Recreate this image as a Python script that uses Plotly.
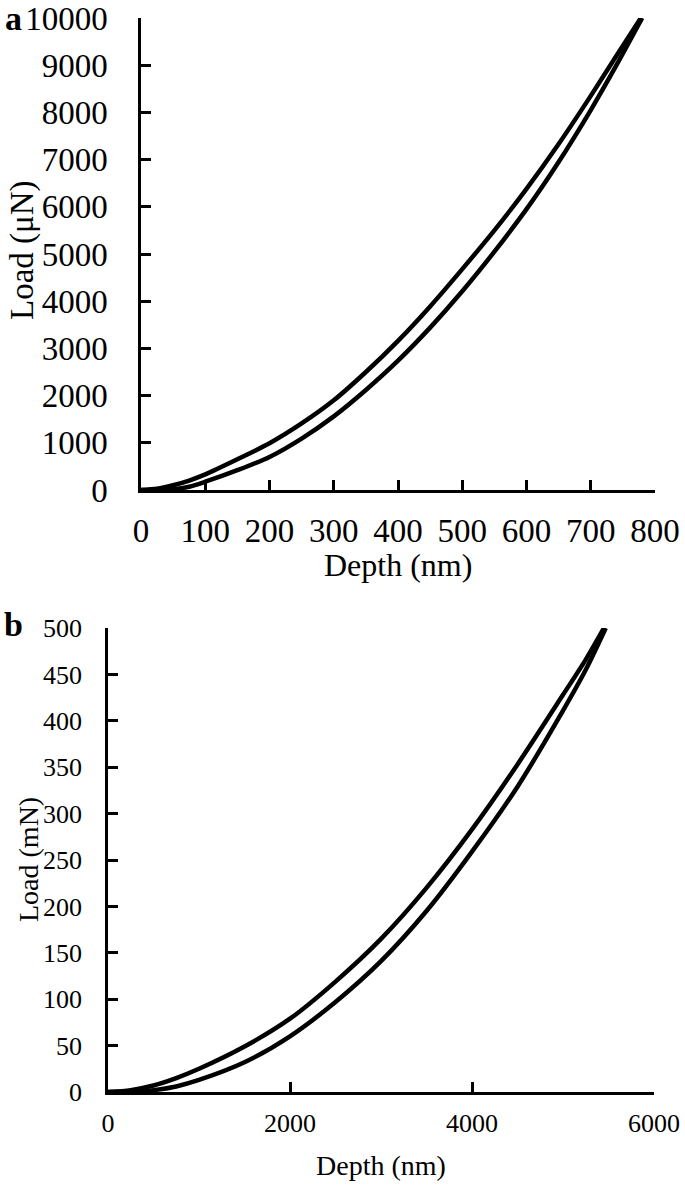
# -*- coding: utf-8 -*-
import plotly.graph_objects as go

# | data section |
# panel a : nanoindentation, load in uN
a_up_depth = [0, 25, 50, 75, 100, 150, 200, 250, 300, 350, 400, 450, 500, 550, 600, 650, 700, 740, 778]
a_up_load = [0, 25, 100, 200, 330, 650, 990, 1410, 1900, 2500, 3160, 3890, 4680, 5500, 6380, 7330, 8350, 9200, 10000]
a_lo_depth = [0, 30, 50, 75, 100, 150, 200, 250, 300, 350, 400, 450, 500, 550, 600, 650, 700, 740, 780]
a_lo_load = [0, 0, 15, 70, 175, 420, 700, 1090, 1560, 2120, 2740, 3440, 4210, 5050, 5950, 6950, 8050, 9000, 10000]

# panel b : microindentation, load in mN
b_up_depth = [0, 250, 500, 750, 1000, 1500, 2000, 2500, 3000, 3500, 4000, 4500, 5000, 5250, 5450]
b_up_load = [0, 2, 7, 15, 25, 49, 79, 119, 165, 220, 283, 353, 428, 466, 500]
b_lo_depth = [0, 300, 500, 750, 1000, 1500, 2000, 2500, 3000, 3500, 4000, 4500, 5000, 5250, 5470]
b_lo_load = [0, 0, 2, 6, 13, 32, 60, 97, 141, 195, 259, 329, 411, 455, 500]

W, H = 685, 1187
serif = "Liberation Serif, Times New Roman, serif"


def px(x):
    return x / W


def py(y):
    return 1 - y / H


# | graph section |
fig = go.Figure()

for xs, ys in [(a_up_depth, a_up_load), (a_lo_depth, a_lo_load)]:
    fig.add_trace(
        go.Scatter(
            x=xs, y=ys, mode="lines", xaxis="x", yaxis="y",
            line={"color": "black", "width": 4.5, "shape": "spline", "smoothing": 0.8},
            showlegend=False,
        )
    )

for xs, ys in [(b_up_depth, b_up_load), (b_lo_depth, b_lo_load)]:
    fig.add_trace(
        go.Scatter(
            x=xs, y=ys, mode="lines", xaxis="x2", yaxis="y2",
            line={"color": "black", "width": 4.5, "shape": "spline", "smoothing": 0.8},
            showlegend=False,
        )
    )

axis_common = dict(
    showgrid=False, zeroline=False, showline=True, linecolor="black",
    linewidth=2.5, ticks="inside", tickcolor="black", tickwidth=2.5,
    ticklen=10, mirror=False, automargin=False, tickformat="d",
    ticklabeloverflow="allow",
)


def label(text, x, y, size, angle=0, bold=False):
    return dict(
        text=f"<b>{text}</b>" if bold else text,
        x=px(x), y=py(y), xref="paper", yref="paper",
        xanchor="center", yanchor="middle", showarrow=False,
        textangle=angle, borderpad=0,
        font=dict(size=size, family=serif, color="black"),
    )


fig.update_layout(
    width=W,
    height=H,
    margin=dict(l=0, r=0, t=0, b=0),
    paper_bgcolor="white",
    plot_bgcolor="white",
    font=dict(family=serif, color="black"),
    xaxis=dict(
        axis_common, domain=[px(141), px(655)], anchor="y",
        range=[0, 800], tickvals=list(range(0, 801, 100)),
        tickfont=dict(size=33), ticklabelstandoff=10,
    ),
    yaxis=dict(
        axis_common, domain=[py(490), py(18)], anchor="x",
        range=[0, 10000], tickvals=list(range(0, 10001, 1000)),
        tickfont=dict(size=33), ticklabelstandoff=24,
    ),
    xaxis2=dict(
        axis_common, domain=[px(108), px(654)], anchor="y2",
        range=[0, 6000], tickvals=[0, 2000, 4000, 6000],
        tickfont=dict(size=26), ticklabelstandoff=6,
    ),
    yaxis2=dict(
        axis_common, domain=[py(1092), py(628)], anchor="x2",
        range=[0, 500], tickvals=list(range(0, 501, 50)),
        tickfont=dict(size=26), ticklabelstandoff=18,
    ),
    annotations=[
        label("a", 13, 18, 34, bold=True),
        label("b", 13, 624, 34, bold=True),
        label("Load (μN)", 23, 250, 33, angle=-90),
        label("Depth (nm)", 398, 565, 32),
        label("Load (mN)", 28, 860, 28, angle=-90),
        label("Depth (nm)", 381, 1165, 28),
    ],
)

# drop the default 8px page margin so the figure sits at the window corner
fig.write_html(
    "out.html",
    config={"displayModeBar": False},
    post_script="document.body.style.margin = '0';",
)
